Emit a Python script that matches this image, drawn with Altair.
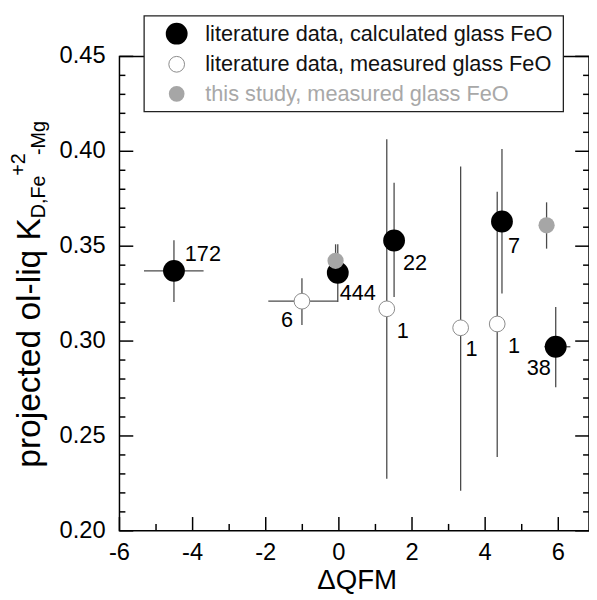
import altair as alt
import pandas as pd

# ---------------- data ----------------
calc_x = [-4.51, -0.03, 1.51, 4.46, 5.93]
calc_y = [0.337, 0.336, 0.353, 0.363, 0.297]
calc_ylo = [0.3206, 0.3206, 0.3232, 0.325, 0.2757]
calc_yhi = [0.3531, 0.351, 0.3834, 0.4012, 0.318]
calc_xlo = [-5.33, None, None, None, 5.62]
calc_xhi = [-3.70, None, None, None, 6.33]
calc_n = ["172", "444", "22", "7", "38"]

meas_x = [-1.01, 1.31, 3.33, 4.33]
meas_y = [0.321, 0.317, 0.307, 0.309]
meas_ylo = [0.3085, 0.2275, 0.2211, 0.2389]
meas_yhi = [0.3331, 0.4064, 0.392, 0.3787]
meas_xlo = [-1.93, None, None, None]
meas_xhi = [-0.03, None, None, None]
meas_n = ["6", "1", "1", "1"]

this_x = [-0.09, 5.68]
this_y = [0.3423, 0.361]
this_ylo = [0.3336, 0.3487]
this_yhi = [0.351, 0.3731]

x_ticks = [-6, -4, -2, 0, 2, 4, 6]
x_tick_labels = ["-6", "-4", "-2", "0", "2", "4", "6"]
x_minor = [-5, -3, -1, 1, 3, 5]
y_ticks = [0.20, 0.25, 0.30, 0.35, 0.40, 0.45]
y_tick_labels = ["0.20", "0.25", "0.30", "0.35", "0.40", "0.45"]
y_minor = [0.21, 0.22, 0.23, 0.24, 0.26, 0.27, 0.28, 0.29, 0.31, 0.32, 0.33, 0.34,
           0.36, 0.37, 0.38, 0.39, 0.41, 0.42, 0.43, 0.44]

legend_labels = ["literature data, calculated glass FeO",
                 "literature data, measured glass FeO",
                 "this study, measured glass FeO"]
x_title = "ΔQFM"
y_title_parts = ["projected ol-liq K", "D,Fe", "+2", "-Mg"]

# ---------------- styling ----------------
W, H = 476, 481
FONT = "Liberation Sans"
BAR = "#4a4a4a"
GRAY = "#a6a6a6"

xs = alt.Scale(domain=[-6, 6.84], nice=False, zero=False)
ys = alt.Scale(domain=[0.2, 0.45], nice=False, zero=False)


def frame(xv, yv, lo, hi, xlo, xhi, n, grp):
    return pd.DataFrame({"x": xv, "y": yv, "ylo": lo, "yhi": hi,
                         "xlo": xlo, "xhi": xhi, "n": n, "g": grp})


df = pd.concat([
    frame(calc_x, calc_y, calc_ylo, calc_yhi, calc_xlo, calc_xhi, calc_n, "calc"),
    frame(meas_x, meas_y, meas_ylo, meas_yhi, meas_xlo, meas_xhi, meas_n, "meas"),
    frame(this_x, this_y, this_ylo, this_yhi, [None] * 2, [None] * 2, [""] * 2, "this"),
], ignore_index=True)

one = pd.DataFrame({"a": [0]})

X = lambda f: alt.X(f, scale=xs, axis=None)
Y = lambda f: alt.Y(f, scale=ys, axis=None)

# error bars
vbars = alt.Chart(df).mark_rule(color=BAR, strokeWidth=1.3).encode(
    x=X("x:Q"), y=Y("ylo:Q"), y2="yhi:Q")
hbars = alt.Chart(df).mark_rule(color=BAR, strokeWidth=1.3).encode(
    x=X("xlo:Q"), x2="xhi:Q", y=Y("y:Q")).transform_filter("isValid(datum.xlo)")


def pts(grp, size, fill, stroke, sw):
    return alt.Chart(df).mark_point(filled=True, size=size, fill=fill, stroke=stroke,
                                    strokeWidth=sw, opacity=1, shape="circle").encode(
        x=X("x:Q"), y=Y("y:Q")).transform_filter(alt.datum.g == grp)


p_calc = pts("calc", 490, "black", "black", 0)
p_meas = pts("meas", 254, "white", "#8a8a8a", 1)
p_this = pts("this", 270, GRAY, GRAY, 0)

# point annotations (placement offsets in pixels)
lab_rows = df[df["n"] != ""].reset_index(drop=True)
lab_place = {
    0: ("left", 11, -17), 1: ("left", 2, 21), 2: ("left", 9, 23), 3: ("left", 6, 25),
    4: ("right", -5, 22), 5: ("right", -9, 19), 6: ("left", 10, 23), 7: ("left", 5, 22),
    8: ("left", 11, 22),
}
labels = []
for i, (al, dx, dy) in lab_place.items():
    labels.append(alt.Chart(lab_rows.iloc[[i]]).mark_text(
        align=al, baseline="middle", dx=dx, dy=dy, fontSize=22, color="black").encode(
        x=X("x:Q"), y=Y("y:Q"), text="n:N"))

# inward ticks
tick_layers = []
for vals, ln in ((y_ticks, 14), (y_minor, 6)):
    d = pd.DataFrame({"v": vals})
    tick_layers.append(alt.Chart(d).mark_rule(color="black", strokeWidth=1.5).encode(
        y=Y("v:Q"), x=alt.value(0), x2=alt.value(ln)))
    tick_layers.append(alt.Chart(d).mark_rule(color="black", strokeWidth=1.5).encode(
        y=Y("v:Q"), x=alt.value(W - ln), x2=alt.value(W)))
for vals, ln in ((x_ticks, 14), (x_minor, 7)):
    d = pd.DataFrame({"v": vals})
    tick_layers.append(alt.Chart(d).mark_rule(color="black", strokeWidth=1.5).encode(
        x=X("v:Q"), y=alt.value(H - ln), y2=alt.value(H)))

# tick labels
xl = pd.DataFrame({"v": x_ticks, "t": x_tick_labels})
yl = pd.DataFrame({"v": y_ticks, "t": y_tick_labels})
x_labels = alt.Chart(xl).mark_text(fontSize=24, baseline="middle", align="center",
                                   color="black").encode(
    x=X("v:Q"), y=alt.value(H + 23), text="t:N")
y_labels = alt.Chart(yl).mark_text(fontSize=24, baseline="middle", align="right",
                                   color="black").encode(
    y=Y("v:Q"), x=alt.value(-14), text="t:N")
x_title_mark = alt.Chart(one).mark_text(fontSize=28, baseline="middle", align="center",
                                        color="black").encode(
    x=alt.value(W / 2 + 3), y=alt.value(H + 51), text=alt.value(x_title))

# legend box
leg_box = alt.Chart(one).mark_rect(fill="white", stroke="#222", strokeWidth=1.3).encode(
    x=alt.value(25), x2=alt.value(450), y=alt.value(-41), y2=alt.value(56))
row_y = [-23, 8, 38]
leg_syms = [
    alt.Chart(one).mark_point(filled=True, size=490, fill="black", strokeWidth=0,
                              opacity=1, shape="circle").encode(
        x=alt.value(58), y=alt.value(row_y[0])),
    alt.Chart(one).mark_point(filled=True, size=254, fill="white", stroke="#8a8a8a",
                              strokeWidth=1, opacity=1, shape="circle").encode(
        x=alt.value(58), y=alt.value(row_y[1])),
    alt.Chart(one).mark_point(filled=True, size=254, fill=GRAY, strokeWidth=0,
                              opacity=1, shape="circle").encode(
        x=alt.value(58), y=alt.value(row_y[2])),
]
leg_cols = ["#111111", "#111111", "#a8a8a8"]
leg_txt = [
    alt.Chart(one).mark_text(align="left", baseline="middle", fontSize=22,
                             color=leg_cols[i]).encode(
        x=alt.value(87), y=alt.value(row_y[i]), text=alt.value(legend_labels[i]))
    for i in range(3)
]

# y title with sub/superscripts
yt_specs = [  # (font size, start y, baseline x)
    (34, 417, -81),
    (20, 164, -75),
    (20, 121, -96),
    (20, 100, -75),
]
y_title = []
for part, (fs, sy, bx) in zip(y_title_parts, yt_specs):
    y_title.append(alt.Chart(one).mark_text(
        align="left", baseline="alphabetic", angle=270, fontSize=fs,
        color="black").encode(x=alt.value(bx), y=alt.value(sy), text=alt.value(part)))

chart = alt.layer(
    vbars, hbars, *tick_layers, p_calc, p_meas, p_this, *labels,
    x_labels, y_labels, x_title_mark,
    leg_box, *leg_syms, *leg_txt, *y_title,
).properties(
    width=W, height=H,
    padding={"left": 113, "top": 45, "right": 0, "bottom": 63},
    autosize=alt.AutoSizeParams(type="none"),
).configure(font=FONT).configure_view(stroke="black", strokeWidth=1.5)

chart.save("out.html", embed_options={"renderer": "svg", "actions": False})
